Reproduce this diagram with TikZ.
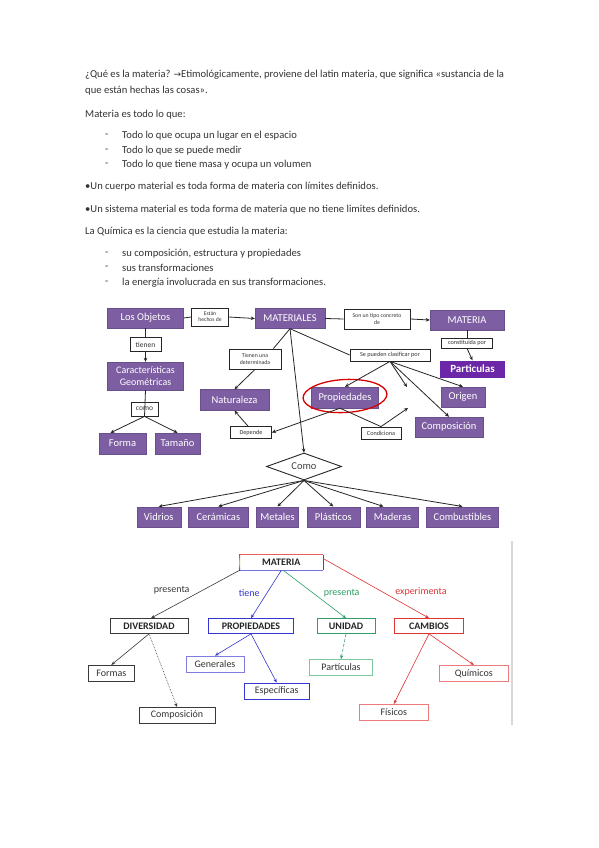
\documentclass[tikz,border=0pt]{standalone}
\usepackage{fontspec}
\setmainfont{Carlito}
\newfontfamily\symf{DejaVu Sans}
\usetikzlibrary{shapes.geometric,arrows.meta}
\definecolor{purp}{HTML}{7D5EA2}
\definecolor{partc}{HTML}{6B27A8}
\definecolor{txtc}{HTML}{333333}
\definecolor{cb}{HTML}{3535D2}
\definecolor{cbl}{HTML}{7E7EE0}
\definecolor{cg}{HTML}{2E9E66}
\definecolor{cgl}{HTML}{7CC79E}
\definecolor{cr}{HTML}{E03434}
\definecolor{crl}{HTML}{EC7A7A}
\definecolor{ck}{HTML}{3A3A3A}
\begin{document}
\begin{tikzpicture}[x=1pt,y=-1pt,
  bodytxt/.style={anchor=west, inner sep=0pt, text=txtc, font=\fontsize{10.6}{12}\selectfont},
  pbox/.style={fill=purp, draw=purp!85!black, line width=0.4pt, text=white, font=\fontsize{10.5}{11}\selectfont, inner sep=1pt, minimum height=20},
  wbox/.style={draw=black!85, fill=white, line width=0.8pt, font=\fontsize{6.2}{6.6}\selectfont, align=center, inner sep=1pt, text=black!80},
  arr/.style={-{Stealth[length=4pt,width=3.6pt]}, line width=0.8pt, draw=black!85},
  ln/.style={line width=0.8pt, draw=black!85},
  mtop/.style={fill=white, line width=0.7pt, font=\fontsize{10}{11}\selectfont\bfseries, minimum height=15, inner sep=1pt, text=black!85},
  msub/.style={fill=white, line width=0.7pt, font=\fontsize{10}{11}\selectfont, minimum height=16, inner sep=1pt, text=black!80},
  marr/.style={-{Stealth[length=4pt,width=3.2pt]}, line width=0.6pt},
  mlab/.style={font=\fontsize{10}{11}\selectfont, inner sep=0pt}
]
\useasboundingbox[fill=white] (0,0) rectangle (599,848);

% ---------- body text ----------
\node[bodytxt] (t1) at (85,75) {¿Qué es la materia? {\symf\fontsize{9}{10}\selectfont →}Etimológicamente, proviene del latin materia, que significa «sustancia de la};
\node[bodytxt] (t2) at (85,91) {que están hechas las cosas».};
\node[bodytxt] (t3) at (85,115) {Materia es todo lo que:};
\node[bodytxt] (d1) at (105,136) {-};
\node[bodytxt] (t4) at (122,136) {Todo lo que ocupa un lugar en el espacio};
\node[bodytxt] (d2) at (105,151) {-};
\node[bodytxt] (t5) at (122,151) {Todo lo que se puede medir};
\node[bodytxt] (d3) at (105,165) {-};
\node[bodytxt] (t6) at (122,165) {Todo lo que tiene masa y ocupa un volumen};
\node[bodytxt] (t7) at (85,187) {•Un cuerpo material es toda forma de materia con límites definidos.};
\node[bodytxt] (t8) at (85,210) {•Un sistema material es toda forma de materia que no tiene limites definidos.};
\node[bodytxt] (t9) at (85,232) {La Química es la ciencia que estudia la materia:};
\node[bodytxt] (d4) at (105,254) {-};
\node[bodytxt] (t10) at (122,254) {su composición, estructura y propiedades};
\node[bodytxt] (d5) at (105,268) {-};
\node[bodytxt] (t11) at (122,268) {sus transformaciones};
\node[bodytxt] (d6) at (105,283) {-};
\node[bodytxt] (t12) at (122,283) {la energía involucrada en sus transformaciones.};

% ---------- first concept map ----------
\node[pbox, minimum width=76] (lo) at (145.5,318) {Los Objetos};
\node[wbox, minimum width=37, minimum height=18, font=\fontsize{5.6}{6}\selectfont] (ehd) at (210,317) {Están\\hechos de};
\node[pbox, minimum width=70] (mat) at (290,318.5) {MATERIALES};
\node[wbox, minimum width=66, minimum height=20, font=\fontsize{5.8}{6.4}\selectfont] (stc) at (377,319) {Son un tipo concreto\\de};
\node[pbox, minimum width=74] (mtr) at (467,320) {MATERIA};
\node[wbox, minimum width=51, minimum height=10] (cpor) at (467,343) {constituida por};
\node[fill=partc, text=white, font=\fontsize{11}{12}\selectfont\bfseries, minimum width=65, minimum height=17, inner sep=1pt] (part) at (472.5,369) {Particulas};
\node[wbox, minimum width=31, minimum height=14, font=\fontsize{7.5}{8}\selectfont] (tie) at (145.5,344.5) {tienen};
\node[pbox, minimum width=76, minimum height=28, align=center, font=\fontsize{10}{12}\selectfont] (cg) at (145.5,376) {Características\\Geométricas};
\node[wbox, minimum width=27, minimum height=14, font=\fontsize{7.5}{8}\selectfont] (como) at (144.5,409) {como};
\node[pbox, minimum width=47, minimum height=21] (forma) at (122.5,443.5) {Forma};
\node[pbox, minimum width=45, minimum height=21] (tam) at (177.5,443.5) {Tamaño};
\node[wbox, minimum width=52, minimum height=20, font=\fontsize{5.8}{6.6}\selectfont] (tud) at (255,359) {Tienen una\\determinada};
\node[pbox, minimum width=69, minimum height=21] (nat) at (234.5,400) {Naturaleza};
\node[wbox, minimum width=41, minimum height=12] (dep) at (251,432.5) {Depende};
\node[wbox, minimum width=80, minimum height=12] (scp) at (390,355) {Se pueden clasificar por};
\node[pbox, minimum width=67, minimum height=21] (prop) at (345,397.5) {Propiedades};
\node[draw=red!85!black, ellipse, line width=1.3pt, minimum width=84, minimum height=33, rotate=3] (ell) at (345,396) {};
\node[pbox, minimum width=44] (orig) at (463,397) {Origen};
\node[pbox, minimum width=68] (comp) at (449,427) {Composición};
\node[wbox, minimum width=40, minimum height=12] (cond) at (381,433) {Condiciona};
\node[diamond, draw=black!85, line width=0.9pt, fill=white, aspect=2.8, minimum width=75, minimum height=27, inner sep=0pt, text=black!75, font=\fontsize{10.5}{11}\selectfont] (cm) at (304,466.5) {Como};
\node[pbox, minimum width=44] (vid) at (158.7,516.7) {Vidrios};
\node[pbox, minimum width=60] (cer) at (218.3,516.7) {Cerámicas};
\node[pbox, minimum width=42] (met) at (277.5,516.7) {Metales};
\node[pbox, minimum width=53] (pla) at (333.3,516.7) {Plásticos};
\node[pbox, minimum width=52] (mad) at (392.5,516.7) {Maderas};
\node[pbox, minimum width=72] (comb) at (462.5,516.7) {Combustibles};
\coordinate (free1) at (407,387);
\coordinate (free2) at (408,408);

\draw[ln] (lo.east) -- (ehd.west);
\draw[arr] (ehd.east) -- (mat.west);
\draw[ln] (mat.east) -- (stc.west);
\draw[arr] (stc.east) -- (mtr.west);
\draw[ln] (mtr.south) -- (cpor.north);
\draw[arr] (cpor.south) -- (part.north);
\draw[ln] (lo.south) -- (tie.north);
\draw[arr] (tie.south) -- (cg.north);
\draw[ln] (cg.south) -- (como.south);
\draw[arr] (como.south) -- ([xshift=-12pt]forma.north);
\draw[arr] (como.south) -- (tam.north);
\draw[ln] (mat.south) -- ([xshift=-8pt]tud.north east);
\draw[arr] (tud.south) -- (nat.north);
\draw[ln] (mat.south) -- (scp.west);
\draw[arr] (mat.south) -- (cm.north);
\draw[arr] (scp.south) -- (prop.north);
\draw[arr] (scp.south) -- (free1);
\draw[arr] (scp.south) -- (orig.north);
\draw[arr] (scp.south) -- (comp.north);
\draw[arr] ([xshift=-5pt]prop.south) -- (dep.east);
\draw[ln] ([xshift=-5pt]prop.south) -- (cond.north);
\draw[arr] (cond.north) -- (free2);
\draw[arr] ([xshift=-3pt]dep.north) -- (nat.south);
\draw[arr] (cm.south) -- (vid.north);
\draw[arr] (cm.south) -- (cer.north);
\draw[arr] (cm.south) -- (met.north);
\draw[arr] (cm.south) -- (pla.north);
\draw[arr] (cm.south) -- ([xshift=-9pt]mad.north);
\draw[arr] (cm.south) -- (comb.north);

% ---------- second concept map ----------
\draw[black!15, line width=1.5pt] (512,541) -- (512,725);
\node[mtop, minimum width=83] (m2) at (281.3,562.5) {MATERIA};
\draw[cr!80, line width=0.7pt] (m2.north west) -- (m2.north east);
\draw[cb!70, line width=0.7pt] (m2.south west) -- (m2.south east);
\draw[cb!60!cr, line width=0.7pt] (m2.north east) -- (m2.south east);
\shade[top color=cr, bottom color=cb, middle color=yellow!60!green] ([xshift=-0.4pt]m2.north west) rectangle ([xshift=0.6pt]m2.south west);

\node[mtop, draw=ck, minimum width=78] (div) at (149,626) {DIVERSIDAD};
\node[mtop, draw=cb, minimum width=85] (pro) at (251,626) {PROPIEDADES};
\node[mtop, draw=cg, minimum width=58] (uni) at (346,626) {UNIDAD};
\node[mtop, draw=cr, minimum width=69] (cam) at (429,626) {CAMBIOS};

\node[msub, draw=ck, minimum width=46] (for) at (111.3,673.3) {Formas};
\node[msub, draw=ck, minimum width=76] (cps) at (177,715.3) {Composición};
\node[msub, draw=cbl, minimum width=58] (gen) at (215,664) {Generales};
\node[msub, draw=cb, minimum width=65] (esp) at (276.7,691) {Específicas};
\node[msub, draw=cgl, minimum width=63] (par) at (341,667.5) {Partículas};
\node[msub, draw=crl, minimum width=69] (qui) at (473.8,673.3) {Químicos};
\node[msub, draw=crl, minimum width=69] (fis) at (393.8,712.3) {Físicos};

\draw[marr, draw=ck] (m2.south west) -- ([xshift=2pt]div.north);
\draw[marr, draw=cb] (m2.south) -- (pro.north);
\draw[marr, draw=cg] ([xshift=2pt]m2.south) -- (uni.north);
\draw[marr, draw=cr] ([yshift=4pt]m2.east) -- (cam.north);
\node[mlab, text=ck] (lp1) at (171.7,590) {presenta};
\node[mlab, text=cb] (lt) at (249.3,592.7) {tiene};
\node[mlab, text=cg] (lp2) at (341.7,593.3) {presenta};
\node[mlab, text=cr] (le) at (421,591.7) {experimenta};

\draw[marr, draw=ck] (div.south) -- (for.north);
\draw[marr, draw=ck, densely dotted] (div.south) -- (cps.north);
\draw[marr, draw=cb] (pro.south) -- (gen.north);
\draw[marr, draw=cb] (pro.south) -- (esp.north);
\draw[marr, draw=cg, densely dashed] (uni.south) -- (par.north);
\draw[marr, draw=cr] (cam.south) -- (qui.north);
\draw[marr, draw=cr] (cam.south) -- (fis.north);
\end{tikzpicture}
\end{document}
